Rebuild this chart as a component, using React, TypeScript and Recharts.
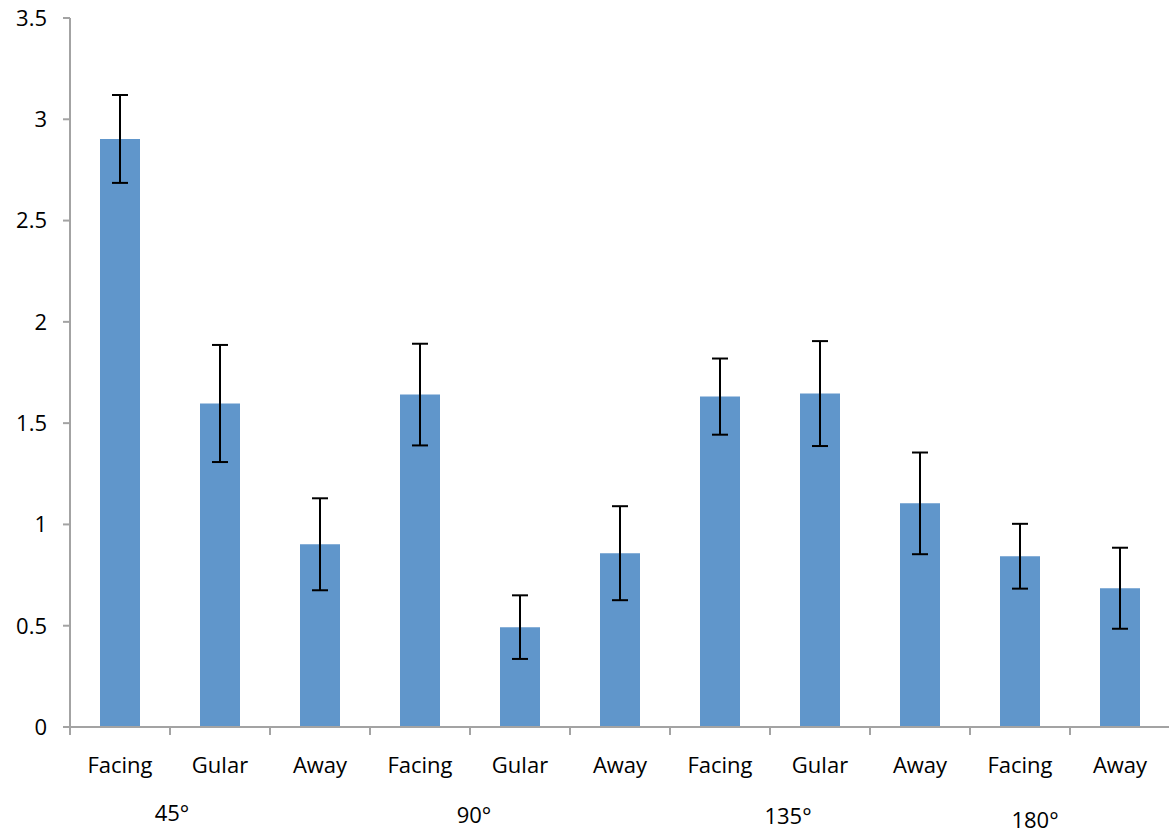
import React from "react";
import { ComposedChart, Bar, ErrorBar, XAxis, YAxis } from "recharts";

const categories = ["Facing", "Gular", "Away", "Facing", "Gular", "Away", "Facing", "Gular", "Away", "Facing", "Away"];
const means = [2.903, 1.597, 0.902, 1.641, 0.493, 0.858, 1.631, 1.646, 1.104, 0.843, 0.685];
const errors = [0.217, 0.289, 0.227, 0.251, 0.157, 0.232, 0.188, 0.259, 0.251, 0.16, 0.2];
const groupLabels = ["45°", "90°", "135°", "180°"];
const groupTickPositions = [1.02, 4.04, 7.18, 9.65];
const groupLabelDy = [0, 2, 3, 7];
const boundaryTicks = [0, 1, 2, 3, 4, 5, 6, 7, 8, 9, 10, 11];
const yTicks = [0, 0.5, 1, 1.5, 2, 2.5, 3, 3.5];

const data = categories.map((c, i) => ({ name: c, idx: i, mid: i + 0.5, value: means[i], err: errors[i] }));

const FONT = "'Open Sans', sans-serif";
const AXIS = "#A3A3A3";

const GroupTick = (props: any) => {
  const { x, y, payload } = props;
  const i = groupTickPositions.indexOf(payload.value);
  if (i < 0) return null;
  return (
    <text x={x} y={y + groupLabelDy[i]} dy="0.71em" textAnchor="middle" fill="#000" fontSize={22} fontFamily={FONT}>
      {groupLabels[i]}
    </text>
  );
};

export default function App() {
  return (
    <div style={{ position: "absolute", left: 0, top: 0, width: 1169, height: 833, background: "#fff" }}>
      <ComposedChart
        width={1172}
        height={833}
        data={data}
        margin={{ top: 18, right: 2, left: 0, bottom: 0 }}
        barCategoryGap="30%"
      >
        <YAxis
          width={70}
          domain={[0, 3.5]}
          ticks={yTicks}
          interval={0}
          tickFormatter={(v: number) => String(v)}
          axisLine={{ stroke: AXIS, strokeWidth: 2 }}
          tickLine={{ stroke: AXIS, strokeWidth: 2 }}
          tickSize={7}
          tickMargin={16}
          tick={{ fill: "#000", fontSize: 22, fontFamily: FONT }}
        />
        <XAxis
          xAxisId="bound"
          dataKey="mid"
          type="number"
          domain={[0, 11]}
          allowDataOverflow
          ticks={boundaryTicks}
          interval={0}
          height={8}
          axisLine={{ stroke: AXIS, strokeWidth: 2 }}
          tickLine={{ stroke: AXIS, strokeWidth: 2 }}
          tickSize={8}
          tickMargin={0}
          tickFormatter={() => ""}
        />
        <XAxis
          xAxisId="cat"
          dataKey="idx"
          type="category"
          height={60}
          interval={0}
          tickFormatter={(v: number) => categories[v]}
          axisLine={false}
          tickLine={false}
          tickSize={0}
          tickMargin={22}
          tick={{ fill: "#000", fontSize: 22, fontFamily: FONT }}
        />
        <XAxis
          xAxisId="grp"
          dataKey="mid"
          type="number"
          domain={[0, 11]}
          allowDataOverflow
          ticks={groupTickPositions}
          interval={0}
          height={38}
          axisLine={false}
          tickLine={false}
          tickSize={0}
          tickMargin={10}
          tick={<GroupTick />}
        />
        <Bar xAxisId="cat" dataKey="value" fill="#6096CB" isAnimationActive={false}>
          <ErrorBar dataKey="err" width={8} stroke="#000" strokeWidth={2} direction="y" />
        </Bar>
      </ComposedChart>
    </div>
  );
}
